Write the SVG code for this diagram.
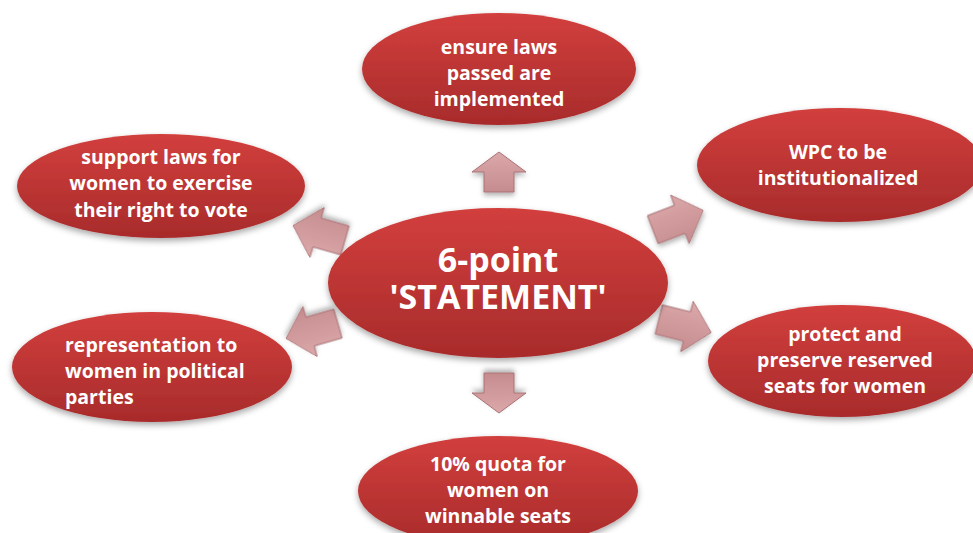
<svg xmlns="http://www.w3.org/2000/svg" width="973" height="533" viewBox="0 0 973 533">
<defs>
<linearGradient id="eg" x1="0" y1="0" x2="0" y2="1">
<stop offset="0" stop-color="#d23f3d"/>
<stop offset="1" stop-color="#a82b2b"/>
</linearGradient>
<linearGradient id="ag" x1="0" y1="0" x2="0" y2="1">
<stop offset="0" stop-color="#dca8aa"/>
<stop offset="1" stop-color="#c58c8e"/>
</linearGradient>
<filter id="sh" x="-20%" y="-20%" width="140%" height="150%">
<feDropShadow dx="0" dy="3" stdDeviation="3" flood-color="#000" flood-opacity="0.35"/>
</filter>
<filter id="ash" x="-30%" y="-30%" width="160%" height="170%">
<feDropShadow dx="0" dy="3" stdDeviation="2.5" flood-color="#000" flood-opacity="0.3"/>
</filter>
<path id="vArrow" d="M0,-20 L27,0 L15,0 L15,20 L-15,20 L-15,0 L-27,0 Z"/>
<path id="sArrow" d="M27,0 L2,-26 L2,-15 L-27,-15 L-27,15 L2,15 L2,26 Z"/>
</defs>
<style>
.node ellipse{fill:url(#eg);filter:url(#sh);}
.node text{fill:#fff;font-family:"Open Sans",Lato,sans-serif;font-weight:bold;font-size:19.5px;text-anchor:middle;}
.node text.big{font-size:34px;}
.conn use{fill:url(#ag);stroke:#a97376;stroke-width:1;filter:url(#ash);}
</style>
<rect width="973" height="533" fill="#fff"/>
<g id="connectors" class="conn">
<use href="#vArrow" transform="translate(499,172)"/>
<use href="#vArrow" transform="translate(499,393) rotate(180)"/>
<use href="#sArrow" transform="translate(678,220) rotate(-21)"/>
<use href="#sArrow" transform="translate(685,326) rotate(14)"/>
<use href="#sArrow" transform="translate(319,233) rotate(196)"/>
<use href="#sArrow" transform="translate(312,331) rotate(164)"/>
</g>
<g id="center" class="node">
<ellipse cx="498" cy="283" rx="170" ry="75"/>
<text class="big" x="498" y="272">6-point</text>
<text class="big" x="498" y="309">'STATEMENT'</text>
</g>
<g id="top" class="node">
<ellipse cx="499" cy="69" rx="137" ry="56"/>
<text x="499" y="54">ensure laws</text>
<text x="499" y="80">passed are</text>
<text x="499" y="106">implemented</text>
</g>
<g id="topleft" class="node">
<ellipse cx="161" cy="186" rx="144" ry="52"/>
<text x="161" y="164">support laws for</text>
<text x="161" y="190">women to exercise</text>
<text x="161" y="217">their right to vote</text>
</g>
<g id="topright" class="node">
<ellipse cx="840" cy="165" rx="143" ry="57"/>
<text x="838" y="159">WPC to be</text>
<text x="838" y="185">institutionalized</text>
</g>
<g id="bottomleft" class="node">
<ellipse cx="152" cy="367" rx="140" ry="55"/>
<text x="65" y="352" style="text-anchor:start">representation to</text>
<text x="65" y="378" style="text-anchor:start">women in political</text>
<text x="65" y="404" style="text-anchor:start">parties</text>
</g>
<g id="bottomright" class="node">
<ellipse cx="842" cy="361" rx="134" ry="56"/>
<text x="845" y="341">protect and</text>
<text x="845" y="367">preserve reserved</text>
<text x="845" y="393">seats for women</text>
</g>
<g id="bottom" class="node">
<ellipse cx="498" cy="491" rx="140" ry="55"/>
<text x="498" y="471">10% quota for</text>
<text x="498" y="497">women on</text>
<text x="498" y="523">winnable seats</text>
</g>
</svg>
